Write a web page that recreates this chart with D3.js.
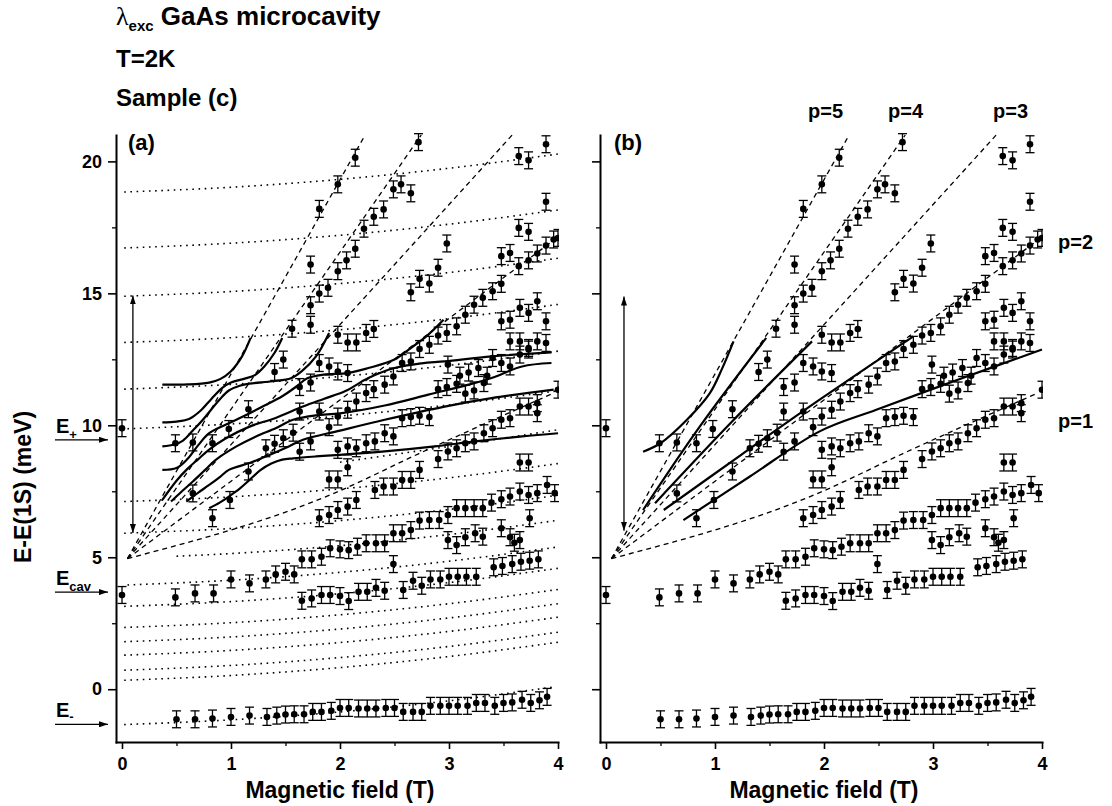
<!DOCTYPE html>
<html>
<head>
<meta charset="utf-8">
<title>GaAs microcavity</title>
<script src="https://cdn.jsdelivr.net/npm/d3@7"></script>
<style>
  body { margin: 0; background: #fff; }
  text { font-family: "Liberation Sans", Arial, sans-serif; font-weight: bold; fill: #000; }
</style>
</head>
<body>
<svg id="chart" width="1112" height="806"></svg>
<script>
// Data: B (T), E-E(1S) (meV)

const fieldZero = [[0, 9.89], [0, 3.57]];

const lowerBranch = [
  [0.5,-1.14],[0.67,-1.14],[0.83,-1.11],[1.0,-1.05],[1.17,-1.0],[1.33,-1.05],[1.42,-1.0],[1.5,-0.96],
  [1.58,-0.95],[1.67,-0.95],[1.75,-0.86],[1.83,-0.86],[1.92,-0.82],[2.0,-0.71],[2.08,-0.71],[2.17,-0.73],
  [2.25,-0.73],[2.33,-0.73],[2.42,-0.71],[2.5,-0.71],[2.58,-0.86],[2.67,-0.86],[2.75,-0.86],[2.83,-0.63],
  [2.92,-0.63],[3.0,-0.63],[3.08,-0.63],[3.17,-0.63],[3.25,-0.52],[3.33,-0.52],[3.42,-0.63],[3.5,-0.52],
  [3.58,-0.5],[3.67,-0.4],[3.75,-0.52],[3.83,-0.42],[3.9,-0.29]
];

const cavityBranch = [
  [0.49,3.48],[0.67,3.63],[0.84,3.63],[1.0,4.16],[1.17,4.01],[1.32,4.16],[1.41,4.35],[1.5,4.45],
  [1.58,4.35],[1.65,4.92],[1.74,4.92],[1.83,5.02],[1.91,5.34],[2.0,5.3],[2.08,5.27],[2.16,5.4],
  [2.24,5.53],[2.33,5.53],[2.41,5.53],[2.49,5.91],[2.57,5.91],[2.65,6.03],[2.73,6.39],[2.82,6.41],
  [2.91,6.41],[2.99,6.6],[3.07,6.86],[3.15,6.86],[3.23,6.86],[3.31,6.86],[3.39,7.07],[3.48,7.2],
  [3.56,7.3],[3.65,7.49],[3.73,7.36],[3.81,7.43],[3.9,7.74],[3.97,7.43]
];

const lowRows = [
  [1.65,3.35],[1.74,3.44],[1.83,3.57],[1.91,3.57],[2.0,3.53],[2.08,3.34],[2.17,3.69],[2.25,3.69],
  [2.33,3.84],[2.41,3.73],[2.49,4.74],[2.58,3.76],[2.67,4.11],[2.75,3.92],[2.83,4.16],[2.92,4.16],
  [3.0,4.26],[3.08,4.26],[3.16,4.26],[3.25,4.26],[3.41,4.62],[3.49,4.67],[3.58,4.74],[3.66,4.83],
  [3.74,4.87],[3.82,4.92],[2.99,5.65],[3.07,5.46],[3.15,5.76],[3.24,5.91],[3.31,5.78],[3.48,6.1],
  [3.56,5.76],[3.6,5.55],[3.65,5.65],[3.74,6.48]
];

const midRows = [
  [0.65,7.42],[0.83,6.48],[0.99,7.17],[1.16,8.25],[1.81,6.48],[1.9,6.6],[1.98,6.79],[2.07,6.92],
  [2.15,7.17],[1.9,7.95],[1.98,7.95],[2.07,8.41],[2.32,7.55],[2.4,7.68],[2.49,7.68],[2.57,7.93],
  [2.65,7.93],[2.73,8.31],[3.65,8.59],[3.73,8.59],
  [0.49,9.32],[0.65,9.35],[0.83,9.32],[0.98,9.86],[1.16,10.61],[1.32,9.13],[1.4,9.3],[1.48,9.51],
  [1.57,9.72],[1.63,9.0],[1.73,9.39],[1.9,9.93],[1.63,10.52],[1.81,10.52],
  [1.98,9.07],[2.07,9.2],[2.15,9.13],[2.24,9.32],[2.32,9.39],[2.41,9.7],[2.49,9.58],
  [2.57,10.27],[2.65,10.31],[2.73,10.36],[2.82,10.31],
  [2.9,8.72],[2.99,9.01],[3.07,9.13],[3.15,9.32],[3.23,9.39],[3.32,9.7],[3.4,9.89],[3.48,10.21],
  [3.56,10.27],[3.65,10.71],[3.73,10.71],[3.81,10.84],[3.81,10.46]
];

const p2Row = [
  [1.98,10.33],[2.07,10.59],[2.15,10.9],[2.24,11.22],[2.31,11.37],[2.41,11.54],[2.49,11.85],[2.57,12.36],
  [2.65,12.42],[2.73,12.89],[2.82,13.05],[2.9,13.4],[2.98,13.5],[3.07,13.75],[3.15,14.19],[3.23,14.57],
  [3.31,14.83],[3.4,15.08],[3.48,15.36],[3.64,16.03],[3.73,16.25],[3.81,16.51],[3.89,16.81],[3.96,17.04]
];

const upperRows = [
  [1.4,12.02],[1.48,12.49],[1.56,13.66],[1.63,11.45],[1.73,11.62],[1.73,13.81],[1.81,12.36],[1.9,12.23],
  [1.98,12.04],[2.07,11.98],[1.98,13.43],[2.07,13.14],[2.15,13.14],[2.24,13.5],[2.31,13.65],
  [2.9,11.37],[2.98,11.45],[3.07,11.57],[3.15,11.2],[3.23,11.32],[3.32,11.6],[2.99,12.3],[3.1,11.88],
  [3.18,12.0],[3.27,12.17],[3.35,11.88],[3.4,12.55],[3.48,12.36],[3.56,12.23],[3.65,12.68],[3.73,12.87],
  [3.56,13.18],[3.65,13.18],[3.73,12.93],[3.81,13.18],[3.89,13.12],
  [3.48,13.94],[3.56,14.0],[3.65,14.45],[3.73,14.26],[3.81,14.7],[3.89,13.94]
];

const topRows = [
  [1.73,14.55],[1.81,14.99],[1.89,15.21],[1.98,15.84],[2.06,16.25],[2.14,16.69],[2.22,17.45],[2.31,17.9],
  [2.4,18.18],[2.49,18.94],[2.56,19.13],[2.65,18.79],[2.72,20.73],
  [1.73,16.09],[1.81,18.2],[1.98,19.13],[2.14,20.14],
  [2.65,15.04],[2.73,15.55],[2.82,15.37],[2.9,15.97],[2.98,16.89],
  [3.48,16.41],[3.56,16.53],[3.64,17.48],[3.73,17.33],[3.89,18.47],[3.64,20.2],[3.73,20.04],[3.89,20.65]
];

const edgePoints = [[4.0,17.1],[4.0,11.35]];

// dotted levels of panel (a)
const dottedLevels = [
  [[0.02,18.84],[1,19.02],[2,19.32],[3,19.74],[4,20.28]],
  [[0.02,16.72],[1,16.9],[2,17.2],[3,17.62],[4,18.16]],
  [[0.02,14.89],[1,15.07],[2,15.37],[3,15.79],[4,16.33]],
  [[0.02,13.14],[1,13.32],[2,13.62],[3,14.04],[4,14.58]],
  [[0.02,11.37],[1,11.55],[2,11.85],[3,12.27],[4,12.81]],
  [[0.05,9.87],[1,10.05],[2,10.35],[3,10.77],[4,11.31]],
  [[2,8.6],[3,9.2],[4,9.83]],
  [[0.02,7.11],[1,7.29],[2,7.59],[3,8.01],[4,8.55]],
  [[0.02,5.91],[1,6.09],[2,6.39],[3,6.81],[4,7.35]],
  [[0.5,5.04],[1,5.14],[2,5.44],[3,5.86],[4,6.4]],
  [[0.05,3.95],[1,4.13],[2,4.43],[3,4.85],[4,5.39]],
  [[0.02,3.14],[1,3.32],[2,3.62],[3,4.04],[4,4.58]],
  [[0.02,2.34],[1,2.52],[2,2.82],[3,3.24],[4,3.78]],
  [[0.02,1.8],[1,1.98],[2,2.28],[3,2.7],[4,3.24]],
  [[0.02,1.29],[1,1.47],[2,1.77],[3,2.19],[4,2.73]],
  [[0.02,0.72],[1,0.9],[2,1.2],[3,1.62],[4,2.16]],
  [[0.02,0.34],[1,0.52],[2,0.82],[3,1.24],[4,1.78]],
  [[0.02,-1.34],[1,-1.16],[2,-0.86],[3,-0.44],[3.95,0.08]]
];

// dashed p-lines (both panels), p = 5 .. 1
const pLines = [
  [[0.05,4.95],[2.23,21]],
  [[0.05,4.95],[2.745,21]],
  [[0.05,4.95],[3.58,21]],
  [[0.05,4.95],[3.95,16.98]],
  [[0.05,4.95],[1.96,7.45],[2.72,8.92],[3.96,11.22]]
];

// solid curves, panel (a)
const curvesA = [
  [[0.37,11.54],[0.6,11.55],[0.8,11.62],[0.9,11.75],[1.0,12.05],[1.1,12.6],[1.18,13.31]],
  [[0.37,10.11],[0.5,10.14],[0.62,10.25],[0.72,10.55],[0.82,11.0],[0.92,11.42],[1.0,11.62],[1.12,11.76],[1.22,11.9],[1.3,12.2],[1.4,12.75],[1.47,13.31]],
  [[0.37,9.2],[0.48,9.27],[0.56,9.42],[0.65,9.8],[0.74,10.2],[0.89,10.95],[0.98,11.32],[1.08,11.5],[1.17,11.58],[1.38,11.67],[1.55,11.78],[1.65,12.05],[1.78,12.61],[1.9,13.5]],
  [[0.37,8.31],[0.5,8.38],[0.6,8.72],[0.7,9.25],[0.8,9.7],[0.95,10.02],[1.11,10.33],[1.29,10.71],[1.47,11.1],[1.6,11.47],[1.7,11.78],[1.85,11.92],[2.07,11.98],[2.26,12.17],[2.5,12.49],[2.63,12.87],[2.8,13.4],[2.95,14.0]],
  [[0.37,7.17],[0.5,7.9],[0.6,8.35],[0.7,8.72],[0.8,9.08],[0.95,9.5],[1.17,9.95],[1.41,10.28],[1.66,10.71],[1.85,11.0],[2.05,11.3],[2.26,11.79],[2.5,12.17],[2.75,12.35],[2.96,12.42],[3.39,12.61],[3.94,12.76]],
  [[0.45,7.11],[0.55,7.5],[0.65,7.87],[0.76,8.3],[0.86,8.69],[1.05,9.2],[1.23,9.58],[1.41,9.89],[1.57,10.21],[1.78,10.38],[2.0,10.45],[2.41,10.75],[2.81,11.16],[3.18,11.54],[3.39,11.79],[3.67,12.23],[3.94,12.36]],
  [[0.59,7.11],[0.7,7.45],[0.8,7.74],[0.9,8.05],[0.98,8.31],[1.17,8.57],[1.32,8.82],[1.53,9.2],[1.66,9.45],[2.0,9.8],[2.41,10.21],[2.96,10.71],[3.39,11.03],[3.96,11.35]],
  [[0.8,6.86],[0.9,7.08],[0.98,7.3],[1.08,7.6],[1.17,7.93],[1.27,8.3],[1.37,8.55],[1.47,8.7],[1.57,8.75],[1.78,8.82],[2.0,8.88],[2.41,9.01],[2.87,9.2],[3.24,9.39],[3.67,9.58],[4.0,9.7]]
];

// solid curves, panel (b)
const curvesB = [
  [[0.34,9.0],[0.5,9.32],[0.74,10.2],[0.95,11.2],[1.06,12.1],[1.17,13.18]],
  [[0.34,6.79],[0.86,9.95],[1.47,13.31]],
  [[0.45,7.05],[1.17,10.2],[1.89,13.18]],
  [[0.53,6.79],[1.24,8.88],[1.96,10.97],[2.82,13.37]],
  [[0.71,6.41],[1.32,8.06],[1.96,9.77],[2.48,10.59],[3.31,11.85],[4.0,12.87]]
];

const xTicks = [0, 1, 2, 3, 4];
const xMinor = [0.5, 1.5, 2.5, 3.5];
const yTicks = [0, 5, 10, 15, 20];
const yMinor = [2.5, 7.5, 12.5, 17.5];
const pTopLabels = ["p=5", "p=4", "p=3"];
const pSideLabels = ["p=2", "p=1"];

const allPoints = [].concat(fieldZero, lowerBranch, cavityBranch, lowRows, midRows,
  p2Row, upperRows, topRows, edgePoints);

// ---- setup ----
const font = '"Liberation Sans", Arial, sans-serif';
const svg = d3.select("#chart");

const y = d3.scaleLinear().domain([-2, 21]).range([742, 135]);
const xA = d3.scaleLinear().domain([-0.055, 4]).range([116, 558]);
const xB = d3.scaleLinear().domain([-0.055, 4]).range([600, 1042]);

const defs = svg.append("defs");
defs.append("marker")
  .attr("id", "head")
  .attr("viewBox", "0 0 10 10")
  .attr("refX", 10).attr("refY", 5)
  .attr("markerWidth", 9).attr("markerHeight", 6)
  .attr("markerUnits", "userSpaceOnUse")
  .attr("preserveAspectRatio", "none")
  .attr("orient", "auto-start-reverse")
  .append("path").attr("d", "M0,0L10,5L0,10Z").attr("fill", "#000");

function styleAxis(g) {
  g.attr("font-family", null).attr("font-size", null);
  g.select(".domain").attr("stroke-width", 2).attr("stroke-linecap", "square");
  g.selectAll(".tick line").attr("stroke-width", 1.6);
  g.selectAll(".tick text")
    .style("font-family", font).style("font-size", "18px").style("font-weight", "bold");
}

function drawPanel(x, id, withDotted, curves, showYLabels, arrowB, arrowE) {
  svg.append("clipPath").attr("id", id).append("rect")
    .attr("x", x.range()[0] + 1).attr("y", 130)
    .attr("width", x(4) - x.range()[0]).attr("height", 612);

  const g = svg.append("g").attr("clip-path", `url(#${id})`);
  const line = d3.line().x(d => x(d[0])).y(d => y(d[1])).curve(d3.curveMonotoneX);

  // dotted levels
  if (withDotted) {
    g.selectAll("path.dotted")
      .data(dottedLevels)
      .join("path")
      .attr("class", "dotted")
      .attr("d", line)
      .attr("fill", "none")
      .attr("stroke", "#000")
      .attr("stroke-width", 1.6)
      .attr("stroke-dasharray", "1.6 4.6");
  }

  // dashed p-lines
  g.selectAll("path.pline")
    .data(pLines)
    .join("path")
    .attr("class", "pline")
    .attr("d", line)
    .attr("fill", "none")
    .attr("stroke", "#000")
    .attr("stroke-width", 1.3)
    .attr("stroke-dasharray", "5 4");

  // solid model curves
  g.selectAll("path.model")
    .data(curves)
    .join("path")
    .attr("class", "model")
    .attr("d", d3.line().x(d => x(d[0])).y(d => y(d[1])).curve(d3.curveCatmullRom.alpha(0.5)))
    .attr("fill", "none")
    .attr("stroke", "#000")
    .attr("stroke-width", 2.2);

  // error bars + points
  const err = 0.32, cap = 4.5;
  const pts = g.selectAll("g.pt").data(allPoints).join("g").attr("class", "pt");
  pts.append("line")
    .attr("x1", d => x(d[0])).attr("x2", d => x(d[0]))
    .attr("y1", d => y(d[1] - err)).attr("y2", d => y(d[1] + err))
    .attr("stroke", "#000").attr("stroke-width", 1.3);
  pts.append("line")
    .attr("x1", d => x(d[0]) - cap).attr("x2", d => x(d[0]) + cap)
    .attr("y1", d => y(d[1] + err)).attr("y2", d => y(d[1] + err))
    .attr("stroke", "#000").attr("stroke-width", 1.3);
  pts.append("line")
    .attr("x1", d => x(d[0]) - cap).attr("x2", d => x(d[0]) + cap)
    .attr("y1", d => y(d[1] - err)).attr("y2", d => y(d[1] - err))
    .attr("stroke", "#000").attr("stroke-width", 1.3);
  pts.append("circle")
    .attr("cx", d => x(d[0])).attr("cy", d => y(d[1]))
    .attr("r", 3.3).attr("fill", "#000");

  // vertical double arrow
  svg.append("line")
    .attr("x1", x(arrowB)).attr("x2", x(arrowB))
    .attr("y1", y(arrowE[0])).attr("y2", y(arrowE[1]))
    .attr("stroke", "#000").attr("stroke-width", 1.3)
    .attr("marker-start", "url(#head)").attr("marker-end", "url(#head)");

  // axes
  const gx = svg.append("g").attr("transform", "translate(0,742)")
    .call(d3.axisBottom(x).tickValues(xTicks).tickSize(7).tickSizeOuter(0).tickPadding(8)
      .tickFormat(d3.format("d")));
  styleAxis(gx);
  svg.append("g").attr("transform", "translate(0,742)")
    .call(d3.axisBottom(x).tickValues(xMinor).tickSize(4).tickFormat(""))
    .call(g => g.select(".domain").remove())
    .selectAll(".tick line").attr("stroke-width", 1.3);

  const gy = svg.append("g").attr("transform", `translate(${x.range()[0]},0)`)
    .call(d3.axisLeft(y).tickValues(yTicks).tickSize(8).tickSizeOuter(0).tickPadding(6)
      .tickFormat(showYLabels ? d3.format("d") : ""));
  styleAxis(gy);
  svg.append("g").attr("transform", `translate(${x.range()[0]},0)`)
    .call(d3.axisLeft(y).tickValues(yMinor).tickSize(4).tickFormat(""))
    .call(g => g.select(".domain").remove())
    .selectAll(".tick line").attr("stroke-width", 1.3);

  // x axis title
  svg.append("text")
    .attr("x", x(2)).attr("y", 798)
    .attr("text-anchor", "middle")
    .style("font-size", "23px")
    .text("Magnetic field (T)");
}

drawPanel(xA, "clipA", true, curvesA, true, 0.1, [5.92, 14.92]);
drawPanel(xB, "clipB", false, curvesB, false, 0.165, [6.0, 14.88]);

// panel letters
svg.append("text").attr("x", 128).attr("y", 150).style("font-size", "22px").text("(a)");
svg.append("text").attr("x", 614).attr("y", 150).style("font-size", "22px").text("(b)");

// y axis title
svg.append("text")
  .attr("transform", "translate(31,487) rotate(-90)")
  .attr("text-anchor", "middle")
  .style("font-size", "23px")
  .text("E-E(1S) (meV)");

// title block
const title = svg.append("text").attr("x", 116).attr("y", 25).style("font-size", "26px");
title.append("tspan").style("font-family", '"Liberation Serif", serif').style("font-weight", "normal").text("λ");
title.append("tspan").attr("dy", 6).style("font-size", "15px").text("exc");
title.append("tspan").attr("dy", -6).text(" GaAs microcavity");
svg.append("text").attr("x", 116).attr("y", 67).style("font-size", "24px").text("T=2K");
svg.append("text").attr("x", 116).attr("y", 106).style("font-size", "24px").text("Sample (c)");

// energy markers on the left
const markers = [
  { sub: "+", E: 9.45, subDy: 6 },
  { sub: "cav", E: 3.68, subDy: 6 },
  { sub: "-", E: -1.33, subDy: 4 }
];
markers.forEach(m => {
  const yy = y(m.E);
  svg.append("line")
    .attr("x1", 55).attr("x2", 108).attr("y1", yy).attr("y2", yy)
    .attr("stroke", "#000").attr("stroke-width", 1.3)
    .attr("marker-end", "url(#head)");
  const t = svg.append("text").attr("x", 56).attr("y", yy - 7).style("font-size", "20px");
  t.append("tspan").text("E");
  t.append("tspan").attr("dy", m.subDy).style("font-size", "13px").text(m.sub);
});

// p labels
const topX = [808, 888, 993];
pTopLabels.forEach((s, i) => {
  svg.append("text").attr("x", topX[i]).attr("y", 118).style("font-size", "20px").text(s);
});
const sideE = [17.0, 10.2];
pSideLabels.forEach((s, i) => {
  svg.append("text").attr("x", 1058).attr("y", y(sideE[i]) + 8).style("font-size", "20px").text(s);
});
</script>
</body>
</html>
